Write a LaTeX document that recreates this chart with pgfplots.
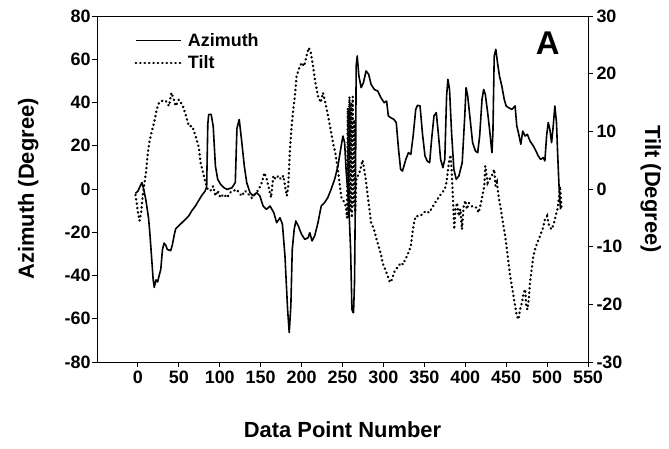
\documentclass[border=0pt]{standalone}
\usepackage{fontspec}
\setmainfont{Liberation Sans}
\usepackage{pgfplots}
\pgfplotsset{compat=1.18}
\tikzset{
  azstyle/.style={black, line width=1.6bp, line join=round},
  tiltstyle/.style={black, line width=2.4bp, line cap=round, dash pattern=on 0.4bp off 4.0bp},
}
\pgfplotsset{
  common/.style={
    at={(97bp,87bp)}, anchor=south west,
    scale only axis, width=491bp, height=346bp,
    xmin=-50, xmax=550,
    tick align=outside, major tick length=5bp,
    axis line style={line width=0.9bp},
    tick style={line width=0.9bp, black},
    ticklabel style={font=\fontsize{18}{18}\selectfont\bfseries},
    /pgf/number format/assume math mode=true,
    label style={font=\fontsize{22}{22}\selectfont\bfseries},
  }
}
\begin{document}
\begin{tikzpicture}
\path[use as bounding box] (0,0) rectangle (669bp,449bp);
\begin{axis}[common,
  ymin=-80, ymax=80,
  xtick={0,50,...,550}, ytick={-80,-60,...,80},
  xtick pos=left, ytick pos=left,
  yticklabel style={xshift=2bp},
  xlabel={Data Point Number}, ylabel={Azimuth (Degree)},
  xlabel style={at={(axis description cs:0.5,-0.197)}, anchor=center},
  ylabel style={at={(axis description cs:-0.14,0.5)}, anchor=center},
  legend style={draw=none, fill=none, at={(axis description cs:0.07,0.962)}, anchor=north west,
    font=\fontsize{18}{18}\selectfont\bfseries, row sep=4bp,
    nodes={inner xsep=6bp}},
  legend cell align=left,
  legend image code/.code={\draw[#1] (0bp,0bp) -- (45bp,0bp);},
]
\addplot[azstyle] coordinates {
(-3,-2) (0,-1) (3,1.5) (5,3) (7,0) (9.7,-5) (13,-13.5) (14.5,-20) (16.6,-31) (18.6,-41.8) (20,-45.5)
(22,-42) (24,-43) (26,-40) (28,-37) (30,-28) (32,-25) (34,-26) (36,-28) (40,-28.5) (42,-26)
(44,-22) (46,-18.5) (50,-17) (54,-15.5) (58,-14) (62,-12.5) (66,-10) (70,-8) (74,-5.5) (78,-3)
(82,-1) (84,1) (85.4,30) (86.5,34.5) (89.5,34.5) (92,29) (94.7,10.6) (97.5,4.5) (101,2.2)
(105,0.6) (109,-0.2) (115,0.6) (119,3) (121,28) (123.8,32.2) (127,21.4) (130,10.6) (133,2.9)
(137,-1.7) (141,-3.2) (145,-1.7) (149,-3.2) (153,-7.9) (157,-9.4) (161.5,-7.9) (166,-10.9)
(169.6,-15.6) (173.6,-13.3) (176.6,-16.3) (179.7,-31) (182.9,-55.6) (184.9,-66.4) (186.9,-54)
(188.6,-27.9) (191,-18.6) (193,-14.8) (196,-17.1) (200,-21) (204,-23.3) (208,-22.5) (210,-20.2)
(212.8,-24) (216,-21.7) (220,-15.6) (224,-7.9) (228,-6.3) (232,-4) (236,-0.2) (240.4,4.5)
(244.4,10.6) (247.7,18.3) (250.5,24.5) (252.6,21.4) (254.6,7.5) (257.4,-4.8) (259.9,-27.9)
(261.5,-55.6) (262.7,-57) (263.5,-57.2) (264.7,-43) (265.9,2.9) (266.7,56.9) (268,61.5)
(270,52.3) (272.8,46.9) (275.6,49.2) (278.8,54.6) (282,53) (284.9,48.4) (288.9,46) (293,45.3)
(297,42.2) (301,39.9) (303.9,40.7) (306,33.8) (308.8,33) (312.8,32.2) (315.7,30.7) (318.5,18.3)
(321,9.1) (323.3,8.3) (327.4,13.7) (330.6,16.8) (333.5,16) (336.3,24.5) (339.5,36.8) (341.6,38.7)
(344.8,38.4) (347.6,26) (350.8,15.3) (353.6,12.9) (356.5,12.2) (358.9,23) (361.8,33.8)
(364.6,35.3) (367,26) (369.9,13.7) (372.7,9.9) (375,13.7) (377.2,43) (378.8,50.7) (380.8,46)
(383.3,26) (386.1,9.1) (389,4.5) (392.2,6) (396.3,12.2) (399.4,33.8) (401,46.9) (403,43)
(406,32.2) (409,21.4) (412.4,17.6) (415.2,16.8) (417.6,24.5) (420.5,41.5) (422.5,46) (424.5,43.8)
(427.4,35.3) (429.7,27.6) (432.6,16.8) (433.8,26) (435.4,61.5) (437.4,64.6) (439.4,58.4)
(441.8,52.3) (444.7,47.6) (447.6,41.5) (450,38.4) (452.9,37.6) (456.9,36.8) (460.9,38.4)
(463,29.1) (465,26) (467.9,20.7) (470.2,26.8) (473.1,24.5) (475.9,25.3) (479.1,22.2) (483.2,19.9)
(486.4,17.6) (489.2,15.3) (492.1,13.7) (495.3,14.5) (497.3,13) (499.4,24.5) (501.4,30.7)
(503.4,27.6) (505.5,21.4) (507.5,29.1) (509.5,38.4) (511.5,30.7) (512.7,18.3) (514.4,2.9)
(515.6,-4.8) (516.4,-9.4)
};
\addlegendentry{Azimuth}
\addlegendimage{tiltstyle}
\addlegendentry{Tilt}
\node[font=\fontsize{33}{33}\selectfont\bfseries] at (axis description cs:0.918,0.922) {A};
\end{axis}
\begin{axis}[common,
  ymin=-30, ymax=30,
  axis x line=none, axis y line*=right,
  ytick={-30,-20,...,30},
  ylabel={Tilt (Degree)},
  ylabel style={at={(axis description cs:1.128,0.5)}, anchor=center, rotate=180},
]
\addplot[tiltstyle] coordinates {
(-3,-1) (0,-4) (2,-5.5) (4,-4) (6,-1) (8,1) (10,3) (11.7,5.7) (13.8,8) (16.6,9.8) (19.8,11.5)
(23,13.8) (25.9,15) (29.9,15.3) (34,15.3) (38,14.4) (40.9,16.7) (43.3,15.8) (46.1,14.4) (50,15.5)
(52.2,15) (54.2,14.7) (58.3,12.9) (62.3,10.9) (66.4,10.9) (70.4,9.2) (74.5,7.2) (76.5,4.6)
(79.7,2.8) (82.6,1.1) (85.4,-0.1) (88.6,-0.3) (92,0.5) (94.7,-1.2) (97.5,-0.3) (100.8,-1.5)
(104.8,-0.9) (108.9,-1.5) (112.9,-0.6) (117,-0.3) (121,-0.1) (123,-0.6) (127,-1.2) (131,-0.3)
(135,-0.9) (139,-1.5) (143,-0.9) (147.5,-0.1) (151.3,1.1) (154.6,2.8) (157.4,1.7) (159.4,0.5)
(162.7,-1.5) (165.5,2.3) (168.4,1.7) (171.6,2.3) (174.8,1.7) (177.7,2.3) (180.5,-0.1) (182,-1.2)
(183.7,0.5) (185.8,6.9) (187.8,10.9) (189.8,13.8) (191.8,16.1) (193.9,19.6) (196.7,20.8)
(199.9,21.9) (203.2,21.3) (206,23.1) (208.8,24.5) (211.3,23.6) (214,21.3) (216.9,18.4)
(220.2,16.1) (223.4,15) (226.2,16.7) (229,15) (232.3,12.7) (235.5,10.3) (238.4,8) (241.2,6.3)
(244.4,3.3) (248.5,-1.4) (252.5,-2.4) (254,-3) (255.5,-5) (256.5,14) (257.5,-5) (258.5,16)
(259.5,-4) (260.5,15) (261.5,-5) (262.5,16) (263.5,-3) (264.5,12) (265.5,-4) (267,2) (270,2.5)
(272,3.5) (274.5,5) (277,3) (279,1) (281,-1.4) (283,-3.6) (285,-5.9) (288.5,-7) (291,-8.4)
(294,-9.9) (297,-11.3) (299,-12.8) (302,-13.9) (305,-15) (308,-16.2) (310.4,-15.7) (313,-14.5)
(315,-13.9) (318.5,-13.4) (321,-12.8) (324,-13.1) (326.6,-12.2) (329,-11.6) (333.5,-9.9)
(335.5,-7.6) (337.5,-5.8) (339.5,-4.7) (343.5,-4.7) (347.6,-4.4) (351.6,-3.8) (355.7,-4.1)
(359.8,-3.2) (363,-2.4) (366,-1.8) (368.7,-1.2) (371.9,-0.6) (375,-0.1) (377,1.1) (380,4.6)
(382,5.9) (383.5,3) (385,-1.8) (386.6,-7) (388,-3.5) (390,-2.4) (392,-4.7) (394,-3.5) (396,-7)
(398,-3) (400,-2) (402,-3.5) (404.3,-2.4) (407,-2.9) (410.4,-3.2) (413.6,-3.2) (416.4,-4.1)
(419.3,-2.4) (421.7,-0.6) (423.3,0.5) (424.5,4) (425.7,2.8) (427.4,1.1) (429.7,1.7) (432.6,2.3)
(435.4,3.4) (437,0.5) (438.7,1.1) (440.7,-1.2) (443.5,-3.5) (446,-5.8) (448.8,-8.2) (450.9,-10.5)
(452.9,-12.8) (454.9,-15.1) (456.9,-16.8) (459,-18.6) (461,-20.3) (463,-22) (465,-22.6)
(467,-20.9) (469.3,-19.7) (471.3,-18) (473.3,-17.4) (474.5,-20.3) (476,-20.9) (477.7,-19.1)
(479.1,-16.2) (481.2,-13.9) (483.2,-11.6) (485.2,-10.5) (488,-9.3) (491.3,-8.2) (494.5,-7)
(497.3,-5.3) (500,-4.7) (502.5,-6.4) (505.3,-7) (508.1,-6.1) (510.5,-4.7) (512.7,-3.5)
(514.7,-1.2) (515.6,0.5) (516.8,-1.2) (517.6,-3.2)
};
\end{axis}
\end{tikzpicture}
\end{document}
